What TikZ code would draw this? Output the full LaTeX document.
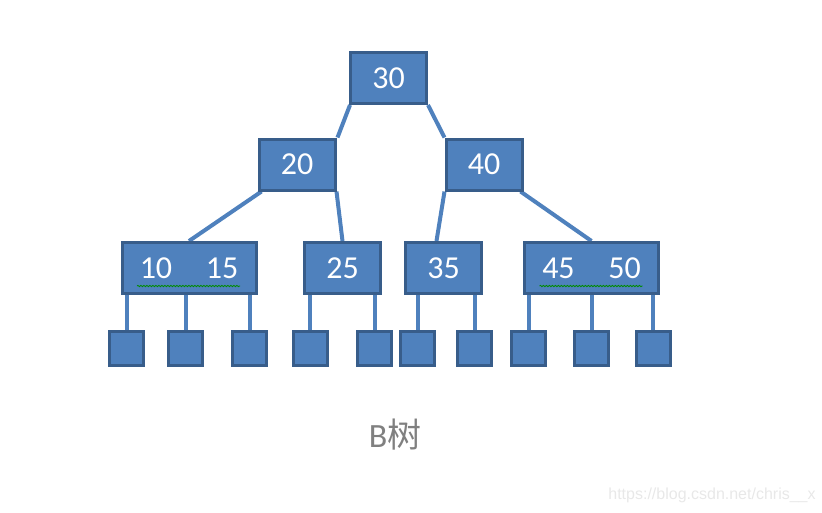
\documentclass[tikz,border=0pt]{standalone}
\usepackage{fontspec}
\setmainfont{Carlito}
\newfontfamily\cjk{Noto Sans CJK SC}
\newfontfamily\wmfont{Liberation Sans}
\usetikzlibrary{backgrounds,decorations.pathmorphing}
\definecolor{keyblue}{HTML}{4F81BD}
\definecolor{keyline}{HTML}{385D8A}

\begin{document}
\begin{tikzpicture}[x=1pt,y=-1pt,
	key/.style={draw=keyline,fill=keyblue,line width=3pt,minimum width=76pt,minimum height=51pt,
		text=white,inner sep=0pt,font=\fontsize{32}{36}\selectfont},
	wide/.style={key,minimum width=134pt},
	leaf/.style={draw=keyline,fill=keyblue,line width=3pt,minimum size=34pt,inner sep=0pt},
	edge/.style={draw=keyblue,line width=4pt},
	squiggle/.style={draw=green!55!black,line width=0.8pt,decorate,
		decoration={snake,segment length=3pt,amplitude=0.7pt}}]
	\useasboundingbox (0,0) rectangle (822,512);
	
	% keys
	\node[key]  (r)     at (388.5, 78)  {30};
	\node[key]  (k20)   at (297, 164.5) {20};
	\node[key]  (k40)   at (484, 164.5) {40};
	\node[wide] (k1015) at (189, 268)   {10\hspace{1.05em}15};
	\node[key]  (k25)   at (342.5, 268) {25};
	\node[key]  (k35)   at (443.5, 268) {35};
	\node[wide] (k4550) at (591.5, 268) {45\hspace{1.05em}50};
	
	% leaves
	\foreach \n/\x in {1/126.5,2/185.5,3/249.5,4/310,5/374.5,6/417.5,7/474.5,8/528.5,9/591.5,10/653}
		\node[leaf] (l\n) at (\x, 348) {};
	
	\begin{pgfonlayer}{background}
		\draw[edge] ([xshift=1pt]r.south west) -- ([xshift=1pt]k20.north east)
			(r.south east) -- (k40.north west)
			([xshift=4pt]k20.south west) -- (k1015.north)
			(k20.south east) -- (k25.north)
			(k40.south west) -- ([xshift=-7pt]k35.north)
			([xshift=-3pt]k40.south east) -- (k4550.north);
		\foreach \p/\l in {k1015/l1,k1015/l2,k1015/l3,k25/l4,k25/l5,k35/l6,k35/l7,k4550/l8,k4550/l9,k4550/l10}
			\draw[edge] (\p.south -| \l) -- (\l.north);
	\end{pgfonlayer}
	
	\draw[squiggle] ([xshift=-52pt,yshift=-18pt]k1015.center) -- ([xshift=51pt,yshift=-18pt]k1015.center);
	\draw[squiggle] ([xshift=-52pt,yshift=-18pt]k4550.center) -- ([xshift=51pt,yshift=-18pt]k4550.center);
	
	\node[text=black!50,font=\fontsize{34}{38}\selectfont] (title) at (395, 435) {B{\cjk 树}};
	\node[text=black!9,font=\wmfont\fontsize{16}{19}\selectfont] (wm) at (712, 495) {https://blog.csdn.net/chris\_\_x};
\end{tikzpicture}
\end{document}
